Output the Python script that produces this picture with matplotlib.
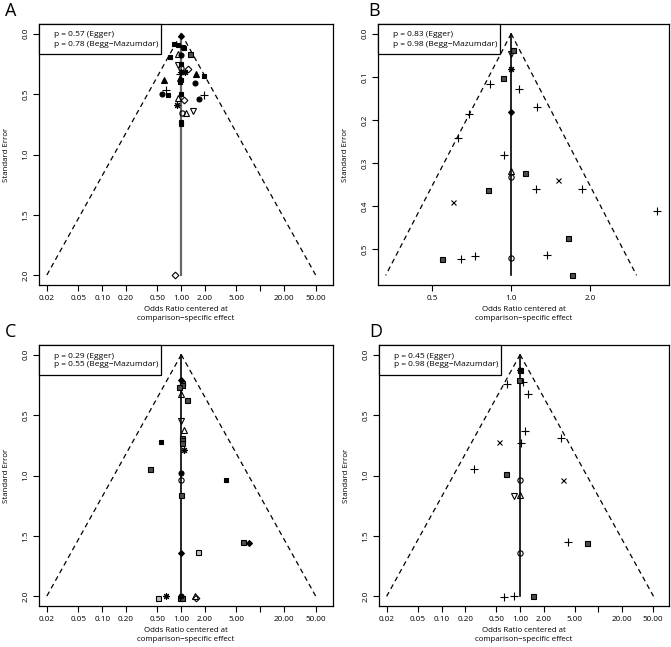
import numpy as np
import matplotlib
matplotlib.use("Agg")
import matplotlib.pyplot as plt
from matplotlib.patches import Rectangle
from matplotlib.ticker import FixedLocator, FixedFormatter, NullLocator

plt.rcParams['font.family'] = ['Open Sans', 'DejaVu Sans']

# symbol codes follow R's pch numbers (one per comparison type)
# panel A
a_or = [1.00, 0.82, 0.90, 1.04, 1.07, 1.29, 0.72, 0.91, 1.00, 1.00, 0.91, 1.20, 1.00,
        1.13, 1.00, 0.96, 1.52, 1.92, 0.61, 1.50, 0.96, 1.00, 0.96, 0.65, 0.57, 0.67,
        1.00, 0.91, 1.09, 1.66, 1.92, 0.89, 1.03, 1.15, 1.42, 1.00, 1.00, 0.83]
a_se = [0.02, 0.088, 0.095, 0.11, 0.12, 0.17, 0.19, 0.17, 0.18, 0.25, 0.26, 0.29, 0.28,
        0.32, 0.32, 0.33, 0.33, 0.35, 0.38, 0.41, 0.37, 0.38, 0.40, 0.47, 0.50, 0.51,
        0.50, 0.53, 0.55, 0.54, 0.51, 0.59, 0.66, 0.66, 0.64, 0.73, 0.75, 2.00]
a_pch = [18, 15, 15, 15, 15, 7, 15, 2, 16, 15, 6, 5, 1,
         8, 8, 3, 17, 15, 17, 16, 2, 15, 15, 3, 16, 15,
         15, 2, 5, 16, 3, 8, 1, 2, 6, 15, 15, 5]

# panel B
b_or = [1.02, 1.00, 1.00, 0.93, 0.83, 1.07, 1.00, 1.25, 0.69, 0.63, 0.94, 1.00, 1.00,
        1.13, 1.51, 0.82, 1.24, 1.86, 0.60, 3.59, 1.64, 0.545, 0.646, 0.726, 1.00, 1.37, 1.70]
b_se = [0.037, 0.046, 0.081, 0.102, 0.116, 0.128, 0.181, 0.171, 0.185, 0.241, 0.282, 0.318, 0.332,
        0.323, 0.338, 0.363, 0.360, 0.359, 0.391, 0.410, 0.473, 0.522, 0.521, 0.515, 0.519, 0.513, 0.560]
b_pch = [7, 6, 8, 7, 3, 3, 18, 3, 3, 3, 3, 2, 1,
         7, 4, 7, 3, 3, 4, 3, 7, 7, 3, 3, 1, 3, 7]

# panel C
c_or = [1.00, 1.01, 1.02, 0.935, 0.98, 1.19, 0.98, 1.09, 0.56, 1.01, 1.01, 1.01, 1.09,
        0.40, 1.00, 1.00, 3.67, 1.00, 6.03, 7.10, 1.00, 1.61, 0.51, 0.645, 0.96, 1.01,
        1.00, 1.52, 1.50]
c_se = [0.21, 0.237, 0.25, 0.27, 0.326, 0.379, 0.55, 0.624, 0.724, 0.69, 0.71, 0.73, 0.79,
        0.944, 0.983, 1.036, 1.039, 1.159, 1.551, 1.557, 1.64, 1.635, 2.01, 2.00, 2.01, 2.01,
        2.00, 2.01, 2.00]
c_pch = [18, 7, 7, 7, 2, 7, 6, 2, 15, 7, 7, 7, 8,
         7, 16, 1, 15, 7, 7, 18, 18, 0, 0, 8, 7, 7,
         16, 5, 2]

# panel D
d_or = [1.00, 1.00, 0.96, 1.10, 0.68, 1.28, 1.17, 3.30, 0.54, 1.04, 0.262, 0.66, 1.00,
        3.53, 0.83, 0.99, 4.05, 7.21, 1.00, 0.625, 0.83, 1.45]
d_se = [0.125, 0.13, 0.208, 0.225, 0.244, 0.328, 0.628, 0.686, 0.719, 0.731, 0.944, 0.986, 1.036,
        1.036, 1.172, 1.158, 1.55, 1.556, 1.639, 2.008, 2.00, 2.00]
d_pch = [8, 7, 7, 3, 3, 3, 3, 3, 4, 3, 3, 7, 1,
         4, 6, 2, 3, 7, 1, 3, 3, 7]

letters = ["A", "B", "C", "D"]
egger = ["0.57", "0.83", "0.29", "0.45"]
begg = ["0.78", "0.98", "0.55", "0.98"]
max_se = [2.0, 0.56, 2.0, 2.0]

wide_ticks = [0.02, 0.05, 0.1, 0.2, 0.5, 1, 2, 5, 10, 20, 50]
wide_labels = ["0.02", "0.05", "0.10", "0.20", "0.50", "1.00", "2.00", "5.00", "", "20.00", "50.00"]
narrow_ticks = [0.5, 1.0, 2.0]
narrow_labels = ["0.5", "1.0", "2.0"]


def draw_points(ax, ors, ses, pchs):
    ors = np.array(ors); ses = np.array(ses); pchs = np.array(pchs)
    ms = 4.2
    styles = {
        0: dict(marker='s', mfc='0.75', mec='k', ms=ms - 0.6),
        1: dict(marker='o', mfc='none', mec='k', ms=ms - 0.4),
        2: dict(marker='^', mfc='none', mec='k', ms=ms),
        3: dict(marker='+', mec='k', ms=ms + 1.2),
        4: dict(marker='x', mec='k', ms=ms - 0.6),
        5: dict(marker='D', mfc='none', mec='k', ms=ms - 0.8),
        6: dict(marker='v', mfc='none', mec='k', ms=ms),
        7: dict(marker='s', mfc='0.3', mec='k', ms=ms - 0.6),
        8: dict(marker=(8, 2, 0), mec='k', ms=ms + 0.6),
        15: dict(marker='s', mfc='k', mec='k', ms=ms - 0.8),
        16: dict(marker='o', mfc='k', mec='k', ms=ms - 0.6),
        17: dict(marker='^', mfc='k', mec='k', ms=ms - 0.2),
        18: dict(marker='D', mfc='k', mec='k', ms=ms - 1.2),
    }
    for p, st in styles.items():
        sel = pchs == p
        if not sel.any():
            continue
        ax.plot(ors[sel], ses[sel], linestyle='none', mew=0.8, zorder=3, **st)


fig = plt.figure(figsize=(6.71, 6.47), dpi=100)
W, H = 671.0, 647.0
# axes boxes in pixels: left, top, right, bottom
boxes = [(39, 24, 333, 285), (378, 24, 669, 285), (39, 345, 333, 606), (379, 345, 669, 606)]
xlims = [(10 ** -1.80, 10 ** 1.92), (10 ** -0.506, 10 ** 0.600),
         (10 ** -1.80, 10 ** 1.92), (10 ** -1.80, 10 ** 1.90)]
line_col = ['0.4', 'k', 'k', 'k']
data = [(a_or, a_se, a_pch), (b_or, b_se, b_pch), (c_or, c_se, c_pch), (d_or, d_se, d_pch)]

for i in range(4):
    l, t, r, b = boxes[i]
    ax = fig.add_axes([l / W, 1 - b / H, (r - l) / W, (b - t) / H])
    se_top = max_se[i]
    # funnel
    se_line = np.array([0.0, se_top])
    ax.plot(np.exp(-1.96 * se_line), se_line, 'k--', lw=0.9, dashes=(4, 3))
    ax.plot(np.exp(1.96 * se_line), se_line, 'k--', lw=0.9, dashes=(4, 3))
    ax.plot([1, 1], [0, se_top], color=line_col[i], lw=1.6 if i == 0 else 1.2, zorder=2)

    draw_points(ax, *data[i])

    ax.set_xscale('log')
    ax.set_xlim(*xlims[i])
    ax.set_ylim(se_top * 1.04, -se_top * 0.04)
    if i == 1:
        ax.xaxis.set_major_locator(FixedLocator(narrow_ticks))
        ax.xaxis.set_major_formatter(FixedFormatter(narrow_labels))
        yt = [0.0, 0.1, 0.2, 0.3, 0.4, 0.5]
    else:
        ax.xaxis.set_major_locator(FixedLocator(wide_ticks))
        ax.xaxis.set_major_formatter(FixedFormatter(wide_labels))
        yt = [0.0, 0.5, 1.0, 1.5, 2.0]
    ax.xaxis.set_minor_locator(NullLocator())
    ax.set_yticks(yt)
    ax.set_yticklabels(["%.1f" % v for v in yt], rotation=90, va='center')
    ax.tick_params(direction='out', length=4, width=0.8, labelsize=5.9, pad=3)
    for sp in ax.spines.values():
        sp.set_linewidth(0.9)

    ax.set_xlabel("Odds Ratio centered at\ncomparison\u2212specific effect", fontsize=5.7,
                  labelpad=3, linespacing=1.45)
    ax.set_ylabel("Standard Error", fontsize=5.7, labelpad=9)

    # p-value box
    bw = 122.0 / (r - l)
    bh = 30.0 / (b - t)
    ax.add_patch(Rectangle((0, 1 - bh), bw, bh, transform=ax.transAxes, facecolor='white',
                           edgecolor='k', lw=0.9, zorder=5, clip_on=False))
    ax.text(15.0 / (r - l), 1 - 11.0 / (b - t), "p = %s (Egger)" % egger[i],
            transform=ax.transAxes, fontsize=6, va='center', zorder=6)
    ax.text(15.0 / (r - l), 1 - 20.0 / (b - t), "p = %s (Begg\u2212Mazumdar)" % begg[i],
            transform=ax.transAxes, fontsize=6, va='center', zorder=6)

    fig.text((l - 34) / W if i % 2 == 0 else (l - 10) / W, 1 - (t - 13) / H, letters[i],
             fontsize=13, va='center', ha='left')

fig.savefig("out.png", dpi=100)
